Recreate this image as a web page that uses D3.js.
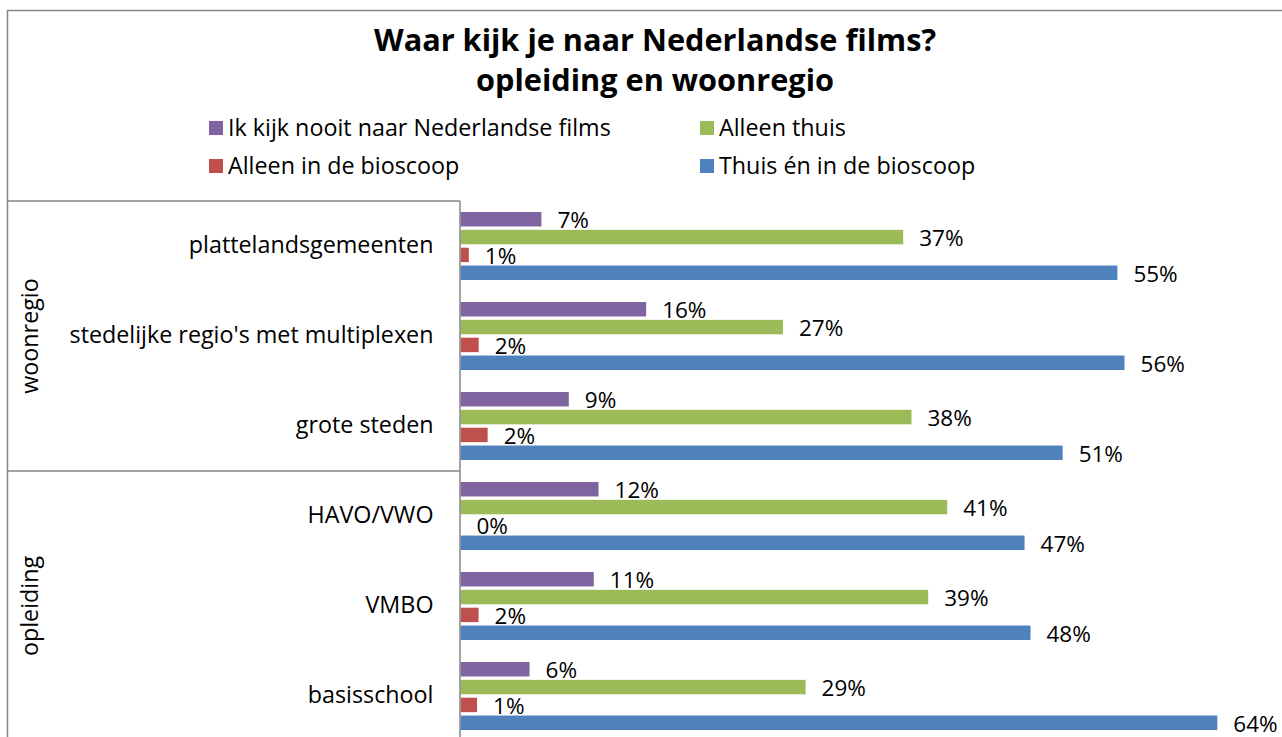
<!DOCTYPE html>
<html>
<head>
<meta charset="utf-8">
<script src="https://cdnjs.cloudflare.com/ajax/libs/d3/7.8.5/d3.min.js"></script>
<style>
  html, body { margin: 0; padding: 0; background: #fff; }
  svg { display: block; font-family: "Open Sans", Lato, sans-serif; }
</style>
</head>
<body>
<svg id="chart" width="1282" height="737"></svg>
<script>
// ---- data ----
const titleLines = ["Waar kijk je naar Nederlandse films?", "opleiding en woonregio"];
const categories = ["plattelandsgemeenten", "stedelijke regio's met multiplexen", "grote steden", "HAVO/VWO", "VMBO", "basisschool"];
const groupNames = ["woonregio", "opleiding"];
const groupSizes = [3, 3];
const seriesNames = ["Ik kijk nooit naar Nederlandse films", "Alleen thuis", "Alleen in de bioscoop", "Thuis én in de bioscoop"];
const seriesColors = ["#8064A2", "#9BBB59", "#C0504D", "#4F81BD"];
const nooit = [0.068, 0.156, 0.091, 0.116, 0.112, 0.058];
const alleenThuis = [0.372, 0.271, 0.379, 0.409, 0.393, 0.290];
const alleenBioscoop = [0.007, 0.0153, 0.0228, 0.0, 0.0152, 0.0139];
const thuisEnBioscoop = [0.552, 0.558, 0.506, 0.474, 0.479, 0.636];
const seriesValues = [nooit, alleenThuis, alleenBioscoop, thuisEnBioscoop];

// ---- layout ----
const svg = d3.select("#chart");
const axisColor = "#868686";
const font = "'Open Sans', Lato, sans-serif";
const textSize = 23.3;
const valueSize = 22.5;
const plotLeft = 460.5, plotTop = 201, plotBottom = 741, plotRightMax = 1293.5;
const groupLeft = 8;

// outer chart border (extends beyond the visible frame)
svg.append("rect").attr("x", 7.5).attr("y", 10.5).attr("width", 1300).attr("height", 760)
  .attr("fill", "none").attr("stroke", axisColor).attr("stroke-width", 1.5);

// title
svg.append("g").selectAll("text").data(titleLines).join("text")
  .attr("x", 655).attr("y", (d, i) => 51 + i * 40)
  .attr("text-anchor", "middle").attr("font-weight", "bold").attr("font-size", 30.7)
  .attr("fill", "#000").text(d => d);

// legend
const legend = svg.append("g").selectAll("g").data(seriesNames).join("g")
  .attr("transform", (d, i) => `translate(${i % 2 === 0 ? 209 : 700},${128 + Math.floor(i / 2) * 38})`);
legend.append("rect").attr("x", 0).attr("y", -7).attr("width", 14).attr("height", 14)
  .attr("fill", (d, i) => seriesColors[i]);
legend.append("text").attr("x", 19).attr("y", 0).attr("dy", "0.35em")
  .attr("font-size", textSize).attr("fill", "#000").text(d => d);

// scales
const x = d3.scaleLinear().domain([0, 0.7]).range([plotLeft, plotRightMax]);
const y0 = d3.scaleBand().domain(categories).range([plotTop, plotBottom]).padding(0);
const y1 = d3.scaleBand().domain(d3.range(seriesNames.length)).range([11, 79]).paddingInner(0.19).paddingOuter(0);

// bars
const cats = svg.append("g").selectAll("g").data(categories).join("g")
  .attr("transform", d => `translate(0,${y0(d)})`);
cats.selectAll("rect").data((c, ci) => seriesValues.map((vals, si) => ({ si, v: vals[ci] })))
  .join("rect")
  .attr("x", x(0)).attr("y", d => y1(d.si))
  .attr("width", d => x(d.v) - x(0)).attr("height", y1.bandwidth())
  .attr("fill", d => seriesColors[d.si]);

// data labels
const fmt = d3.format(".0%");
cats.selectAll("text").data((c, ci) => seriesValues.map((vals, si) => ({ si, v: vals[ci] })))
  .join("text")
  .attr("x", d => x(d.v) + 16)
  .attr("y", d => y1(d.si) + y1.bandwidth() / 2 + 1)
  .attr("dy", "0.35em").attr("font-size", valueSize).attr("fill", "#000")
  .text(d => fmt(d.v));

// category axis (multi-level)
const yAxis = d3.axisLeft(y0).tickSize(0).tickPadding(27);
const gAxis = svg.append("g").attr("transform", `translate(${plotLeft},0)`).call(yAxis);
gAxis.select(".domain").remove();
gAxis.selectAll("text").attr("font-size", textSize).attr("fill", "#000").attr("font-family", font);

// vertical axis line
svg.append("line").attr("x1", plotLeft - 0.5).attr("x2", plotLeft - 0.5)
  .attr("y1", plotTop).attr("y2", plotBottom)
  .attr("stroke", axisColor).attr("stroke-width", 1.5);

// group separators and group labels
const groupStarts = groupSizes.map((s, i) => d3.sum(groupSizes.slice(0, i)));
const groupBounds = groupStarts.map((s, i) => ({
  top: y0(categories[s]),
  bottom: y0(categories[s + groupSizes[i] - 1]) + y0.bandwidth()
}));
svg.append("g").selectAll("line").data(groupBounds).join("line")
  .attr("x1", groupLeft).attr("x2", plotLeft - 0.5)
  .attr("y1", d => d.top).attr("y2", d => d.top)
  .attr("stroke", axisColor).attr("stroke-width", 1.5);
svg.append("g").selectAll("text").data(groupNames).join("text")
  .attr("transform", (d, i) => `translate(38,${(groupBounds[i].top + groupBounds[i].bottom) / 2}) rotate(-90)`)
  .attr("text-anchor", "middle").attr("font-size", textSize).attr("fill", "#000")
  .text(d => d);
</script>
</body>
</html>
